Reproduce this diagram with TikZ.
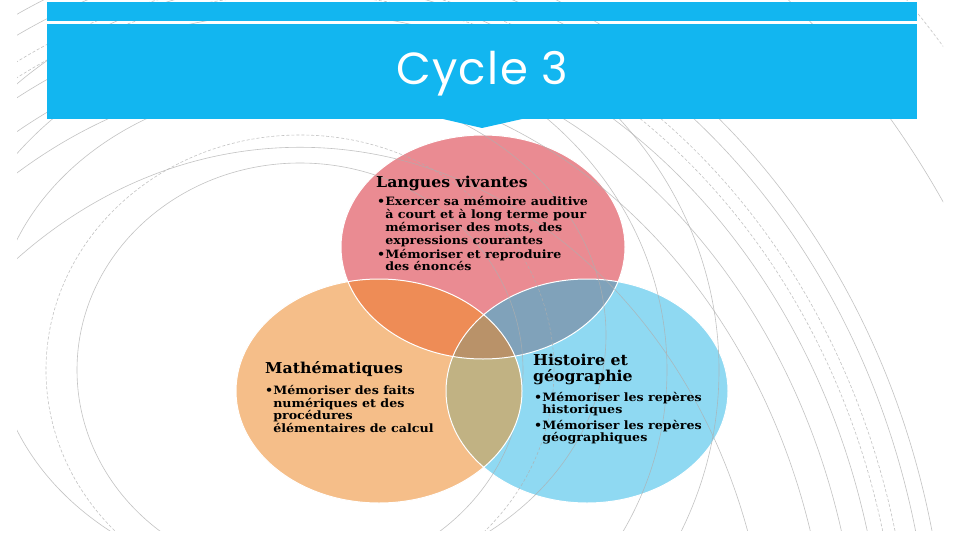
\documentclass[tikz,border=0pt]{standalone}
\usepackage{fontspec}
\setmainfont{DejaVu Serif}
\newfontfamily\headfont{DejaVu Serif}[FakeStretch=1.05]
\newfontfamily\bodyfont{DejaVu Serif}[FakeStretch=1.10]
\newfontfamily\titlefont{Poppins}[LetterSpace=3]
\definecolor{banner}{RGB}{18,182,240}
\definecolor{cpink}{RGB}{234,139,146}
\definecolor{corange}{RGB}{245,190,137}
\definecolor{cblue}{RGB}{143,217,242}
\definecolor{cpo}{RGB}{238,140,86}
\definecolor{cpb}{RGB}{128,162,186}
\definecolor{cob}{RGB}{193,178,131}
\definecolor{cpob}{RGB}{185,146,105}
\definecolor{arcgray}{RGB}{175,175,175}
\begin{document}
\begin{tikzpicture}[x=1pt,y=-1pt,
  arcline/.style={draw=arcgray, line width=0.6pt, opacity=0.75},
  arcdash/.style={arcline, dash pattern=on 3pt off 2pt},
  headtxt/.style={anchor=base west, inner sep=0pt, font=\headfont\fontsize{15}{17}\selectfont\bfseries, text=black},
  bodytxt/.style={anchor=base west, inner sep=0pt, font=\bodyfont\fontsize{11.5}{13}\selectfont\bfseries, text=black},
  venn/.style={draw=white, line width=1pt}
]
\useasboundingbox (0,0) rectangle (960,540);
\fill[white] (0,0) rectangle (960,540);

\def\pinkE{(483,247) ellipse [x radius=142pt, y radius=112pt]}
\def\orangeE{(379,391) ellipse [x radius=143pt, y radius=112pt]}
\def\blueE{(587,391) ellipse [x radius=141pt, y radius=112pt]}

% Venn regions
\fill[cpink] \pinkE;
\fill[corange] \orangeE;
\fill[cblue] \blueE;
\begin{scope}\clip \pinkE; \fill[cpo] \orangeE; \end{scope}
\begin{scope}\clip \pinkE; \fill[cpb] \blueE; \end{scope}
\begin{scope}\clip \orangeE; \fill[cob] \blueE; \end{scope}
\begin{scope}\clip \pinkE; \clip \orangeE; \fill[cpob] \blueE; \end{scope}
\draw[venn] \pinkE;
\draw[venn] \orangeE;
\draw[venn] \blueE;

% background arcs (not over the orange circle)
\begin{scope}[even odd rule]
\clip (0,0) rectangle (960,540) (379,391) ellipse [x radius=144pt, y radius=113pt];
\clip (17,0) rectangle (943,530);
% left family
\draw[arcline] (300,370) ellipse [x radius=223pt, y radius=207pt];
\draw[arcdash] (300,370) ellipse [x radius=254pt, y radius=235pt];
\draw[arcline] (300,335) ellipse [x radius=306pt, y radius=250pt];
\draw[arcline] (300,370) ellipse [x radius=367pt, y radius=340pt];
\draw[arcline] (300,370) ellipse [x radius=419pt, y radius=388pt];
% right family
\foreach \r/\s in {470/arcline,530/arcline,560/arcline,585/arcline,600/arcdash,612/arcdash,632/arcline,648/arcline,770/arcline,850/arcdash}{
  \draw[\s] (300,700) ellipse [x radius={\r pt}, y radius={1.176*\r pt}];
}
\end{scope}

% banner
\fill[banner] (47,2) rectangle (917,21);
\fill[banner] (47,24) rectangle (917,119);
\fill[banner] (443,119) -- (482,128) -- (522,119) -- cycle;
\node[font=\titlefont\fontsize{45}{45}\selectfont, text=white, anchor=base, inner sep=0pt] (title) at (482,85) {Cycle 3};

% Langues vivantes
\node[headtxt] (lvh) at (376,187) {Langues vivantes};
\node[bodytxt] (lv1) at (377,205) {•Exercer sa mémoire auditive};
\node[bodytxt] (lv2) at (377,218) {\hphantom{•}à court et à long terme pour};
\node[bodytxt] (lv3) at (377,231) {\hphantom{•}mémoriser des mots, des};
\node[bodytxt] (lv4) at (377,244) {\hphantom{•}expressions courantes};
\node[bodytxt] (lv5) at (377,258) {•Mémoriser et reproduire};
\node[bodytxt] (lv6) at (377,270) {\hphantom{•}des énoncés};

% Mathematiques
\node[headtxt] (mah) at (265,373) {Mathématiques};
\node[bodytxt] (ma1) at (265,394) {•Mémoriser des faits};
\node[bodytxt] (ma2) at (265,407) {\hphantom{•}numériques et des};
\node[bodytxt] (ma3) at (265,419) {\hphantom{•}procédures};
\node[bodytxt] (ma4) at (265,432) {\hphantom{•}élémentaires de calcul};

% Histoire et geographie
\node[headtxt] (hgh1) at (533,365) {Histoire et};
\node[headtxt] (hgh2) at (533,381) {géographie};
\node[bodytxt] (hg1) at (534,401) {•Mémoriser les repères};
\node[bodytxt] (hg2) at (534,413) {\hphantom{•}historiques};
\node[bodytxt] (hg3) at (534,429) {•Mémoriser les repères};
\node[bodytxt] (hg4) at (534,441) {\hphantom{•}géographiques};
\end{tikzpicture}
\end{document}
